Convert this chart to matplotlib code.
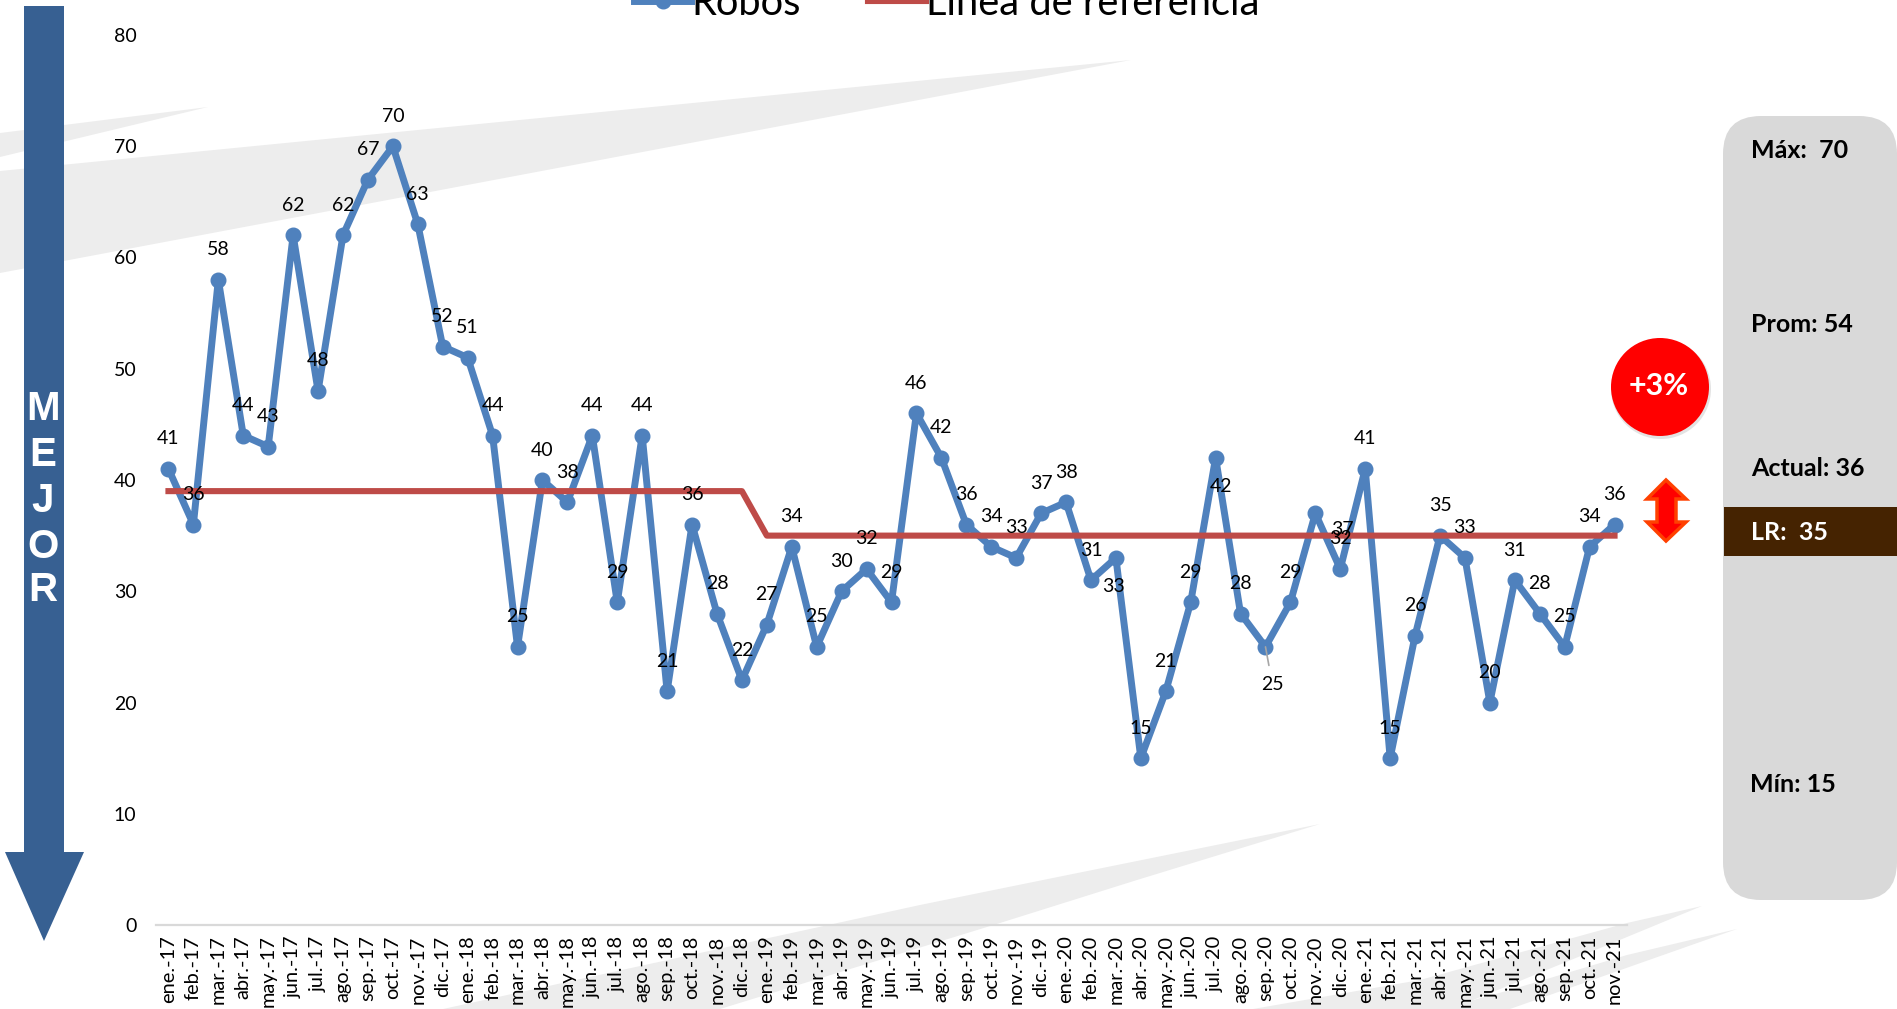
import matplotlib
matplotlib.use('Agg')
import matplotlib.pyplot as plt
from matplotlib.patches import Polygon, Circle, Rectangle, FancyBboxPatch

plt.rcParams['font.family'] = ['Lato', 'DejaVu Sans']

# Data
months = ['ene.-17', 'feb.-17', 'mar.-17', 'abr.-17', 'may.-17', 'jun.-17', 'jul.-17', 'ago.-17',
          'sep.-17', 'oct.-17', 'nov.-17', 'dic.-17', 'ene.-18', 'feb.-18', 'mar.-18', 'abr.-18',
          'may.-18', 'jun.-18', 'jul.-18', 'ago.-18', 'sep.-18', 'oct.-18', 'nov.-18', 'dic.-18',
          'ene.-19', 'feb.-19', 'mar.-19', 'abr.-19', 'may.-19', 'jun.-19', 'jul.-19', 'ago.-19',
          'sep.-19', 'oct.-19', 'nov.-19', 'dic.-19', 'ene.-20', 'feb.-20', 'mar.-20', 'abr.-20',
          'may.-20', 'jun.-20', 'jul.-20', 'ago.-20', 'sep.-20', 'oct.-20', 'nov.-20', 'dic.-20',
          'ene.-21', 'feb.-21', 'mar.-21', 'abr.-21', 'may.-21', 'jun.-21', 'jul.-21', 'ago.-21',
          'sep.-21', 'oct.-21', 'nov.-21']
robos = [41, 36, 58, 44, 43, 62, 48, 62, 67, 70, 63, 52, 51, 44, 25, 40, 38, 44, 29, 44, 21, 36, 28, 22,
         27, 34, 25, 30, 32, 29, 46, 42, 36, 34, 33, 37, 38, 31, 33, 15, 21, 29, 42, 28, 25, 29, 37, 32,
         41, 15, 26, 35, 33, 20, 31, 28, 25, 34, 36]
referencia = [39] * 24 + [35] * 35
y_ticks = [0, 10, 20, 30, 40, 50, 60, 70, 80]

W, H = 1897, 1009
fig = plt.figure(figsize=(W / 100, H / 100), dpi=100, facecolor='white')

# Background layer in pixel coordinates (y goes down)
bg = fig.add_axes([0, 0, 1, 1])
bg.set_xlim(0, W)
bg.set_ylim(H, 0)
bg.axis('off')

# Grey swooshes behind the chart
swooshes = [
    [(0, 133), (208, 107), (0, 157)],
    [(0, 171), (1131, 60), (0, 273)],
    [(443, 1009), (920, 905), (1043, 880), (1320, 824), (1137, 880), (1000, 923), (720, 1009)],
    [(1253, 1009), (1420, 980), (1627, 923), (1702, 906), (1627, 937), (1510, 985), (1451, 1009)],
    [(1440, 1009), (1510, 990), (1627, 955), (1737, 929), (1510, 1009)],
]
for s in swooshes:
    bg.add_patch(Polygon(s, closed=True, fc='#EDEDED', ec='none'))

# "MEJOR" arrow on the left
bg.add_patch(Polygon([(24, 6), (64, 6), (64, 852), (84, 852), (44, 941), (5, 852), (24, 852)],
                     closed=True, fc='#376092', ec='none'))
for letter, y in zip('MEJOR', [409, 455, 501, 547, 590]):
    bg.text(43, y, letter, color='white', fontsize=29, fontweight='bold',
            family=['Liberation Sans'], ha='center', va='center')

# Grey panel on the right
bg.add_patch(FancyBboxPatch((1723 + 38, 116 + 38), 174 - 76, 784 - 76,
                            boxstyle='round,pad=38,rounding_size=38', fc='#D9D9D9', ec='none'))
bg.add_patch(Rectangle((1724, 507), 173, 49, fc='#452301', ec='none'))
panel_text = [('Máx:  70', 1751, 151, 'black'), ('Prom: 54', 1751, 324, 'black'),
              ('Actual: 36', 1751, 468, 'black'), ('LR:  35', 1751, 533, 'white'),
              ('Mín: 15', 1750, 785, 'black')]
for txt, x, y, col in panel_text:
    bg.text(x, y, txt, color=col, fontsize=18, fontweight='bold', ha='left', va='center')

# Red circle and double arrow
bg.add_patch(Circle((1661, 389), 50, fc='#D8D8D8', ec='none', alpha=0.7))
bg.add_patch(Circle((1660, 387), 49, fc='#FF0000', ec='none'))
bg.text(1659, 386, '+3%', color='white', fontsize=22, fontweight='bold', ha='center', va='center')
bg.add_patch(Polygon([(1666, 480), (1686, 499), (1676, 499), (1676, 522), (1686, 522), (1666, 541),
                      (1647, 522), (1657, 522), (1657, 499), (1647, 499)],
                     closed=True, fc='#FF0000', ec='#FF4000', lw=2.5))

# Chart layer, x runs from half a category before the first month to half after the last
ax = fig.add_axes([156 / W, 1 - 925 / H, (1627 - 156) / W, (925 - 35) / H])
ax.patch.set_alpha(0)
x = list(range(len(months)))

line_robos, = ax.plot(x, robos, color='#4F81BD', lw=5, marker='o', ms=10.5, label='Robos', clip_on=False)
line_ref, = ax.plot(x, referencia, color='#BE4B48', lw=4.4, label='Línea de referencia', clip_on=False)

ax.set_xlim(-0.5, len(months) - 0.5)
ax.set_ylim(0, 80)
ax.set_yticks(y_ticks)
ax.set_xticks(x)
ax.set_xticklabels(months, rotation=90, ha='center', va='top')
ax.tick_params(axis='y', length=0, pad=14, labelsize=14)
ax.tick_params(axis='x', length=0, pad=7.5, labelsize=14.4)
for side in ['top', 'left', 'right']:
    ax.spines[side].set_visible(False)
ax.spines['bottom'].set_color('#D9D9D9')
ax.spines['bottom'].set_linewidth(1.6)

# Data labels, above the point except for these (offsets in px)
label_offsets = {38: (-2, -29), 42: (5, -29), 44: (7, -38), 46: (27, -16)}
for i, v in enumerate(robos):
    dx, dy = label_offsets.get(i, (0, 30))
    arrow = None
    if i == 44:
        arrow = dict(arrowstyle='-', color='#A6A6A6', lw=1.2, shrinkA=6, shrinkB=0)
    ax.annotate(str(v), (i, v), xytext=(dx * 0.72, dy * 0.72), textcoords='offset points',
                ha='center', va='center', fontsize=14, color='black', arrowprops=arrow, zorder=5)

# Legend, cut off by the top edge as in the picture
fig.legend(handles=[line_robos, line_ref], ncol=2, loc='center left', bbox_to_anchor=(634 / W, 0.997),
           frameon=False, fontsize=28.7, handlelength=1.44, handletextpad=0.0, columnspacing=1.69,
           borderpad=0, borderaxespad=0)

plt.savefig('out.png', dpi=100)
